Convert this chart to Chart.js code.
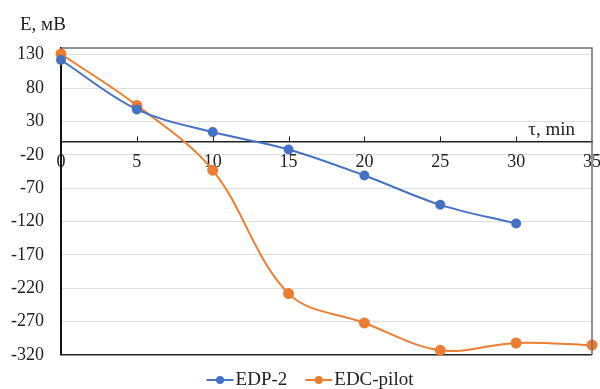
<!DOCTYPE html>
<html>
<head>
<meta charset="utf-8">
<script src="https://cdn.jsdelivr.net/npm/chart.js@4"></script>
<style>
	html, body { margin: 0; padding: 0; background: #fff; }
	#wrap { width: 600px; height: 389px; }
</style>
</head>
<body>
<div id="wrap"><canvas id="myChart"></canvas></div>
<script>
const timeValues = [0, 5, 10, 15, 20, 25, 30, 35];
const edp2 = [122, 48, 14, -12, -51, -95, -123];
const edcPilot = [131, 54, -43, -228, -272, -313, -302, -305];
const yTickValues = [-320, -270, -220, -170, -120, -70, -20, 30, 80, 130];
const seriesNames = ["EDP-2", "EDC-pilot"];
const yTitle = "E, мВ";
const xTitle = "τ, min";

const COLORS = ["#4472C4", "#ED7D31"];
const FONT = "'Liberation Serif', 'Times New Roman', serif";

function toPoints(values) {
	return values.map((v, i) => ({ x: timeValues[i], y: v }));
}

const framePlugin = {
	id: "frame",
	afterDraw(chart) {
		const { ctx, chartArea: a, scales } = chart;
		const x = scales.x;
		const zeroY = scales.y.getPixelForValue(0);
		ctx.save();
		// top and right border
		ctx.strokeStyle = "#6e6e6e";
		ctx.lineWidth = 1.5;
		ctx.beginPath();
		ctx.moveTo(a.left, a.top);
		ctx.lineTo(a.right, a.top);
		ctx.lineTo(a.right, a.bottom);
		ctx.stroke();
		// tick marks on the zero line
		ctx.strokeStyle = "#222";
		ctx.lineWidth = 1;
		timeValues.forEach((t) => {
			if (t === 0 || t === 35) return;
			const px = Math.round(x.getPixelForValue(t)) + 0.5;
			ctx.beginPath();
			ctx.moveTo(px, zeroY);
			ctx.lineTo(px, zeroY - 5);
			ctx.stroke();
		});
		// axis titles
		ctx.fillStyle = "#222";
		ctx.font = "19px " + FONT;
		ctx.textBaseline = "middle";
		ctx.textAlign = "left";
		ctx.fillText(yTitle, 20, 25);
		ctx.textAlign = "right";
		ctx.fillText(xTitle, a.right - 17, zeroY - 11);

		// legend: line with dot, then label
		ctx.textAlign = "left";
		const markW = 27, gap = 2, spacing = 18, ly = 380;
		const widths = seriesNames.map((n) => markW + gap + ctx.measureText(n).width);
		const total = widths.reduce((s, w) => s + w, 0) + spacing * (widths.length - 1);
		let lx = 310 - total / 2;
		seriesNames.forEach((n, i) => {
			ctx.strokeStyle = COLORS[i];
			ctx.fillStyle = COLORS[i];
			ctx.lineWidth = 2;
			ctx.beginPath();
			ctx.moveTo(lx, ly);
			ctx.lineTo(lx + markW, ly);
			ctx.stroke();
			ctx.beginPath();
			ctx.arc(lx + markW / 2, ly, 4, 0, Math.PI * 2);
			ctx.fill();
			ctx.fillStyle = "#222";
			ctx.fillText(n, lx + markW + gap, ly);
			lx += widths[i] + spacing;
		});
		ctx.restore();
	},
};

function drawChart() {
	const ctx = document.getElementById("myChart");
	new Chart(ctx, {
		type: "line",
		data: {
			datasets: [
				{
					label: seriesNames[0],
					data: toPoints(edp2),
					borderColor: COLORS[0],
					backgroundColor: COLORS[0],
					borderWidth: 2,
					pointRadius: 4,
					pointHoverRadius: 4,
					tension: 0.35,
					clip: false,
				},
				{
					label: seriesNames[1],
					data: toPoints(edcPilot),
					borderColor: COLORS[1],
					backgroundColor: COLORS[1],
					borderWidth: 2,
					pointRadius: 4.5,
					pointHoverRadius: 4.5,
					tension: 0.35,
					clip: false,
				},
			],
		},
		options: {
			responsive: true,
			maintainAspectRatio: false,
			animation: false,
			layout: { padding: { top: 48, right: 0, left: 0, bottom: 34 } },
			plugins: {
				legend: { display: false },
				tooltip: { enabled: false },
			},
			scales: {
				x: {
					type: "linear",
					position: { y: 0 },
					min: 0,
					max: 35,
					afterFit(scale) {
						scale.paddingRight = 8;
					},
					ticks: {
						stepSize: 5,
						color: "#222",
						font: { family: FONT, size: 18 },
						padding: 10,
						maxRotation: 0,
					},
					grid: { display: false, drawTicks: false },
					border: { display: true, color: "#222", width: 1.5 },
				},
				y: {
					min: -320,
					max: 140,
					afterBuildTicks(scale) {
						scale.ticks = yTickValues.map((v) => ({ value: v }));
					},
					afterFit(scale) {
						scale.width = 61;
					},
					ticks: {
						color: "#222",
						font: { family: FONT, size: 18 },
						padding: 17,
					},
					grid: {
						drawTicks: false,
						color: (c) => (c.tick && c.tick.value === -320 ? "#222" : "#dedede"),
						lineWidth: (c) => (c.tick && c.tick.value === -320 ? 1.5 : 1),
					},
					border: { display: true, color: "#111", width: 2 },
				},
			},
		},
		plugins: [framePlugin],
	});
}

drawChart();
</script>
</body>
</html>
